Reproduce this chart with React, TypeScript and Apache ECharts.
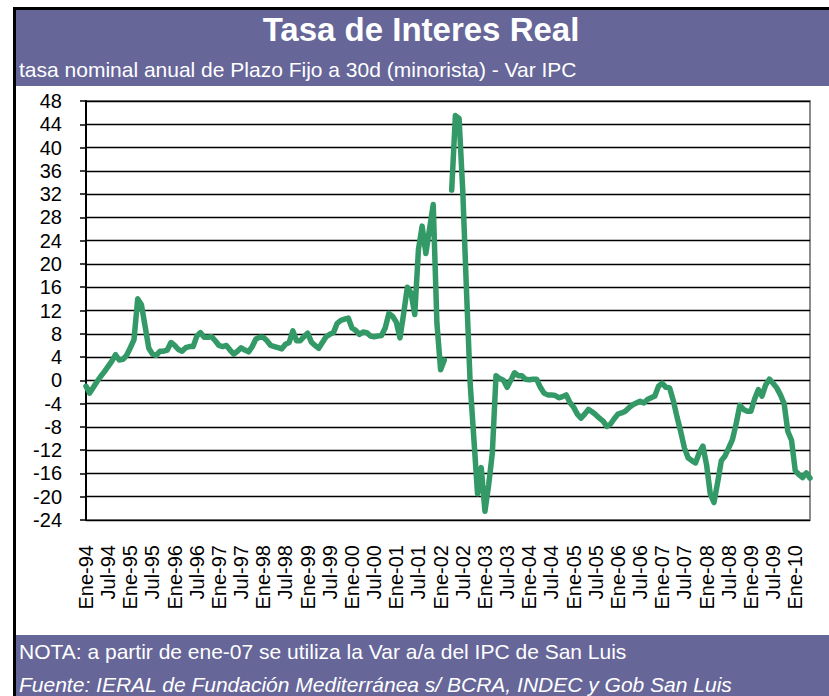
import React, { useEffect, useRef } from "react";
import * as echarts from "echarts";

const TITLE = "Tasa de Interes Real";
const SUBTITLE = "tasa nominal anual de Plazo Fijo a 30d (minorista) - Var IPC";
const NOTE = "NOTA: a partir de ene-07 se utiliza la Var a/a del IPC de San Luis";
const SOURCE = "Fuente: IERAL de Fundación Mediterránea s/ BCRA, INDEC y Gob San Luis";

const MONTHS = ["Ene", "Feb", "Mar", "Abr", "May", "Jun", "Jul", "Ago", "Sep", "Oct", "Nov", "Dic"];
const YEARS = ["94", "95", "96", "97", "98", "99", "00", "01", "02", "03", "04", "05", "06", "07", "08", "09", "10"];

const v1994 = [-1.0, -2.2, -1.2, -0.2, 0.7, 1.5, 2.4, 3.3, 4.4, 3.5, 3.6, 4.3];
const v1995 = [5.6, 7.0, 14.0, 13.0, 9.3, 5.5, 4.5, 4.3, 5.0, 5.0, 5.2, 6.5];
const v1996 = [6.0, 5.3, 5.0, 5.6, 5.8, 5.8, 7.6, 8.2, 7.4, 7.4, 7.5, 6.8];
const v1997 = [6.0, 5.8, 6.0, 5.2, 4.5, 5.0, 5.6, 5.2, 4.9, 5.8, 7.1, 7.4];
const v1998 = [7.4, 6.8, 6.0, 5.8, 5.6, 5.4, 6.2, 6.5, 8.5, 6.8, 6.8, 7.5];
const v1999 = [8.1, 6.6, 6.0, 5.5, 6.5, 7.5, 7.9, 8.2, 9.8, 10.3, 10.5, 10.7];
const v2000 = [9.0, 8.6, 7.9, 8.3, 8.2, 7.6, 7.5, 7.6, 7.7, 9.0, 11.5, 11.0];
const v2001 = [10.0, 7.3, 11.5, 16.0, 15.0, 11.3, 22.5, 26.5, 21.8, 26.0, 30.2, 9.8];
const v2002 = [1.8, 3.5, null, 32.7, 45.5, 45.0, 32.5, 15.5, -0.5, -10.0, -19.5, -15.0];
const v2003 = [-22.5, -18.0, -12.5, 0.8, 0.3, 0.0, -1.2, 0.0, 1.3, 0.8, 0.8, 0.2];
const v2004 = [0.1, 0.2, 0.2, -1.2, -2.2, -2.5, -2.5, -2.6, -3.0, -2.8, -2.5, -3.8];
const v2005 = [-4.6, -5.8, -6.5, -5.8, -5.0, -5.4, -5.9, -6.5, -7.0, -7.9, -7.5, -6.6];
const v2006 = [-5.8, -5.6, -5.3, -4.7, -4.2, -3.9, -3.6, -3.9, -3.3, -3.0, -2.7, -1.0];
const v2007 = [-0.5, -1.2, -1.3, -3.5, -6.3, -8.8, -11.6, -13.3, -13.8, -14.2, -12.5, -11.3];
const v2008 = [-14.5, -19.5, -21.0, -17.5, -13.8, -13.0, -11.6, -10.2, -7.5, -4.3, -5.0, -5.3];
const v2009 = [-5.3, -3.2, -1.6, -2.7, -0.8, 0.2, -0.5, -1.3, -2.5, -4.0, -8.8, -10.3];
const v2010 = [-15.5, -16.2, -16.7, -15.9, -16.8];

const SERIES: (number | null)[] = [
  ...v1994, ...v1995, ...v1996, ...v1997, ...v1998, ...v1999, ...v2000, ...v2001,
  ...v2002, ...v2003, ...v2004, ...v2005, ...v2006, ...v2007, ...v2008, ...v2009, ...v2010,
];

const CATEGORIES: string[] = [];
YEARS.forEach((y) => MONTHS.forEach((m) => CATEGORIES.push(`${m}-${y}`)));
const CATS = CATEGORIES.slice(0, SERIES.length);

const FONT = "'Liberation Sans', Arial, sans-serif";
const PURPLE = "#666699";

export default function App() {
  const ref = useRef<HTMLDivElement>(null);
  useEffect(() => {
    if (!ref.current) return;
    const chart = echarts.init(ref.current, null, { renderer: "svg" });
    chart.setOption({
      animation: false,
      backgroundColor: "#ffffff",
      textStyle: { fontFamily: FONT },
      graphic: [
        { type: "rect", shape: { x: 13, y: 7, width: 816, height: 3 }, style: { fill: "#000" }, z: 100 },
        { type: "rect", shape: { x: 13, y: 7, width: 3, height: 689 }, style: { fill: "#000" }, z: 100 },
        { type: "rect", shape: { x: 16, y: 10, width: 813, height: 76 }, style: { fill: PURPLE }, z: 100 },
        { type: "rect", shape: { x: 16, y: 635, width: 813, height: 61 }, style: { fill: PURPLE }, z: 100 },
        {
          type: "text", x: 421, y: 29, z: 101,
          style: { text: TITLE, fill: "#fff", font: `bold 33px ${FONT}`, align: "center", verticalAlign: "middle" },
        },
        {
          type: "text", x: 19, y: 69, z: 101,
          style: { text: SUBTITLE, fill: "#fff", font: `21px ${FONT}`, align: "left", verticalAlign: "middle" },
        },
        {
          type: "text", x: 19, y: 651, z: 101,
          style: { text: NOTE, fill: "#fff", font: `21px ${FONT}`, align: "left", verticalAlign: "middle" },
        },
        {
          type: "text", x: 19, y: 684, z: 101,
          style: { text: SOURCE, fill: "#fff", font: `italic 21px ${FONT}`, align: "left", verticalAlign: "middle" },
        },
      ],
      grid: {
        left: 86, right: 19, top: 101, bottom: 176,
        show: true, borderColor: "#8c8c8c", borderWidth: 2, backgroundColor: "#fff",
      },
      xAxis: {
        type: "category",
        data: CATS,
        boundaryGap: false,
        axisLine: { show: false },
        axisTick: { show: false },
        splitLine: { show: false },
        axisLabel: {
          interval: 5, rotate: 90, fontSize: 20, color: "#000", margin: 25, fontFamily: FONT,
        },
      },
      yAxis: {
        type: "value",
        min: -24, max: 48, interval: 4,
        axisLine: { show: true, lineStyle: { color: "#000", width: 2 } },
        axisTick: { show: true, length: 6, lineStyle: { color: "#000", width: 1.5 } },
        splitLine: { show: true, lineStyle: { color: "#000", width: 1.4 } },
        axisLabel: { fontSize: 20, color: "#000", margin: 24, fontFamily: FONT },
      },
      series: [
        {
          type: "line",
          data: SERIES,
          showSymbol: false,
          connectNulls: false,
          lineStyle: { color: "#339966", width: 5.5, cap: "round", join: "round" },
          itemStyle: { color: "#339966" },
          z: 5,
        },
      ],
    });
    return () => chart.dispose();
  }, []);
  return <div ref={ref} style={{ position: "fixed", left: 0, top: 0, width: 829, height: 696 }} />;
}
